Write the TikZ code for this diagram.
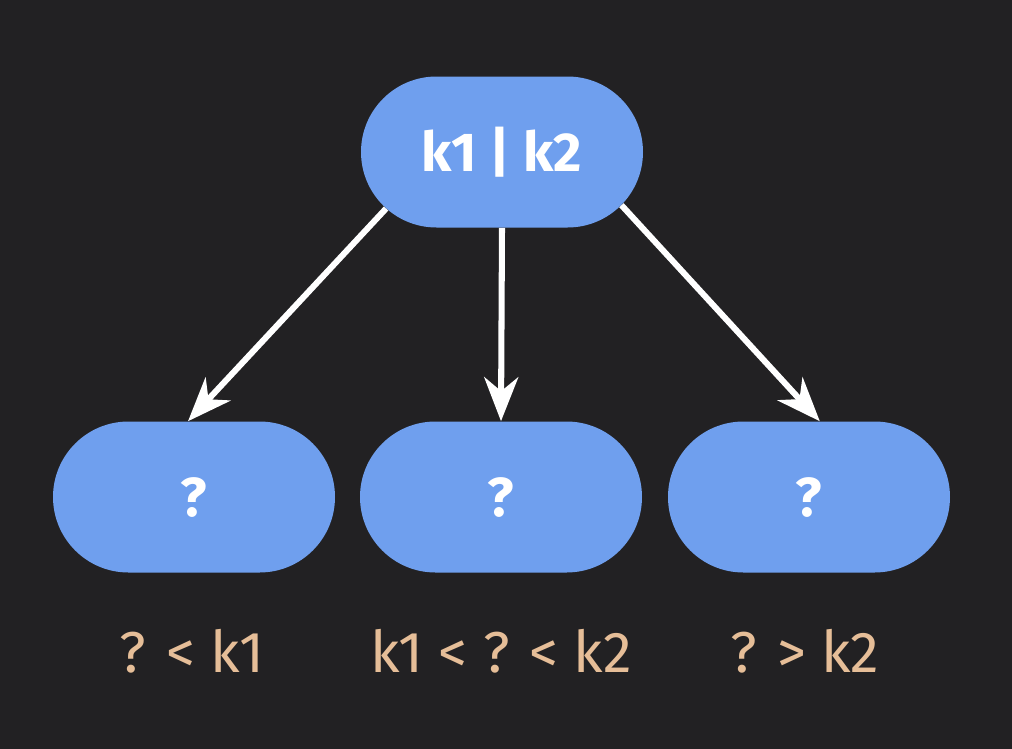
\documentclass[tikz,border=0pt]{standalone}
\usepackage{fontspec}
\setmainfont{Fira Sans}
\usepackage{xcolor}
\usetikzlibrary{positioning,arrows.meta,shapes.misc}

\definecolor{bgdark}{RGB}{34,33,35}
\definecolor{keyblue}{RGB}{111,159,238}
\definecolor{rangetan}{RGB}{230,190,152}

\begin{document}
\begin{tikzpicture}[>={Stealth[length=1.1cm,width=0.85cm,inset=0.35cm]},
  keynode/.style={rounded rectangle, fill=keyblue, text=white, font=\fontsize{39}{46}\selectfont\bfseries,
    minimum width=7.05cm, minimum height=3.775cm, inner sep=0pt},
  rangelabel/.style={text=rangetan, font=\fontsize{41}{48}\selectfont, anchor=base},
  link/.style={->, draw=white, line width=4.3pt}]
\fill[bgdark] (0,0) rectangle (25.3,-18.725);
\useasboundingbox (0,0) rectangle (25.3,-18.725);
% root and children
\node[keynode] (root) at (12.55,-3.8) {k1 | k2};
\node[keynode] (lo) at (4.85,-12.425) {?};
\node[keynode] (md) at (12.525,-12.425) {?};
\node[keynode] (hi) at (20.225,-12.425) {?};
% ranges under the children
\node[rangelabel] (lolab) at (4.8,-16.8) {? < k1};
\node[rangelabel] (mdlab) at (12.525,-16.8) {k1 < ? < k2};
\node[rangelabel] (hilab) at (20.125,-16.8) {? > k2};
\draw[link] (root.206) -- ([xshift=-0.15cm]lo.north);
\draw[link] (root.south) -- (md.north);
\draw[link] (root.336) -- ([xshift=0.27cm]hi.north);
\end{tikzpicture}
\end{document}
